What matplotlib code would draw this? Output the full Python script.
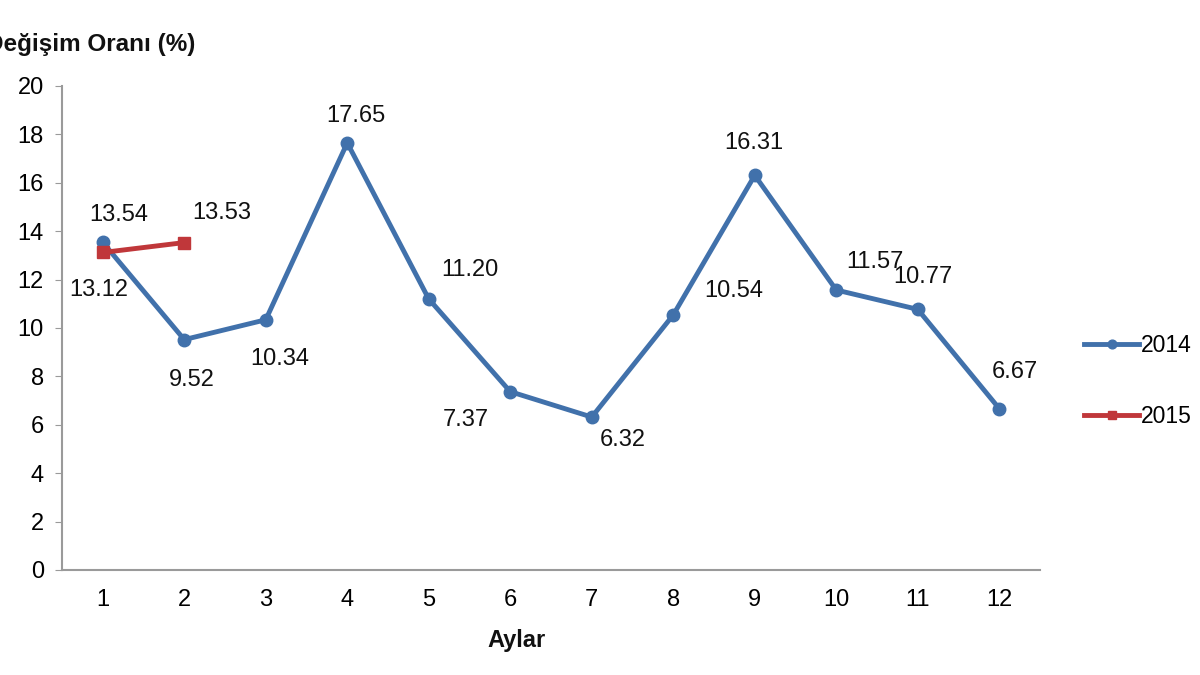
import matplotlib
matplotlib.use("Agg")
from matplotlib import pyplot as plt

plt.rcParams['font.family'] = ['Liberation Sans', 'DejaVu Sans']

months = list(range(1, 13))
vals_2014 = [13.54, 9.52, 10.34, 17.65, 11.20, 7.37, 6.32, 10.54, 16.31, 11.57, 10.77, 6.67]
labels_2014 = ["13.54", "9.52", "10.34", "17.65", "11.20", "7.37", "6.32", "10.54", "16.31", "11.57", "10.77", "6.67"]
months_2015 = [1, 2]
vals_2015 = [13.12, 13.53]
labels_2015 = ["13.12", "13.53"]

# label offsets in pixels (dx, dy), screen coords
off_2014 = [(16, 27), (8, -40), (14, -39), (9, 27), (41, 29), (-44, -28),
            (31, -23), (61, 24), (-1, 32), (39, 28), (5, 32), (16, 37)]
off_2015 = [(-4, -38), (38, 30)]

blue = '#4171AB'
red = '#C0373A'
grey = '#9A9A9A'

fig = plt.figure(figsize=(12, 6.75), dpi=100)
ax = fig.add_axes([62/1200, 1-570/675, (1040-62)/1200, (570-86)/675])

ax.plot(months, vals_2014, color=blue, lw=3.5, marker='o', ms=9, label='2014')
ax.plot(months_2015, vals_2015, color=red, lw=3.5, marker='s', ms=9, label='2015')

for m, v, t, (dx, dy) in zip(months, vals_2014, labels_2014, off_2014):
    ax.annotate(t, (m, v), xytext=(dx*0.72, dy*0.72), textcoords='offset points',
                ha='center', va='center', fontsize=17, color='#111111')
for m, v, t, (dx, dy) in zip(months_2015, vals_2015, labels_2015, off_2015):
    ax.annotate(t, (m, v), xytext=(dx*0.72, dy*0.72), textcoords='offset points',
                ha='center', va='center', fontsize=17, color='#111111')

ax.set_xlim(0.5, 12.5)
ax.set_ylim(0, 20)
ax.set_yticks(range(0, 21, 2))
ax.set_xticks(months)
for s in ['top', 'right']:
    ax.spines[s].set_visible(False)
for s in ['left', 'bottom']:
    ax.spines[s].set_color(grey)
    ax.spines[s].set_linewidth(1.5)
ax.tick_params(axis='y', length=5, color=grey, labelsize=17, pad=8)
ax.tick_params(axis='x', length=0, labelsize=17, pad=14)

# eksen basligi, referansta oldugu gibi sol kenarda kesik
fig.text(195/1200, 1-45/675, 'Değişim Oranı (%)', ha='right', va='center',
         fontsize=17.5, fontweight='bold', color='#111111')
fig.text(517/1200, 1-640/675, 'Aylar', ha='center', va='center',
         fontsize=17, fontweight='bold', color='#111111')

fig.legend(loc='center left', bbox_to_anchor=(1084/1200, 1-381/675), frameon=False,
           fontsize=16.5, handlelength=2.4, handletextpad=0.1, labelspacing=2.1,
           markerscale=0.7, borderpad=0, borderaxespad=0)

fig.savefig('out.png', dpi=100)
